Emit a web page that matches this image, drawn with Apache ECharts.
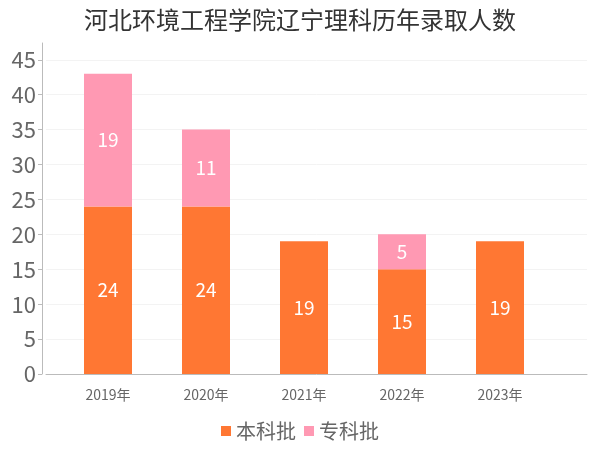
<!DOCTYPE html>
<html>
<head>
<meta charset="utf-8">
<script src="https://cdn.jsdelivr.net/npm/echarts@6/dist/echarts.min.js"></script>
<style>
  html, body { margin: 0; padding: 0; background: #fff; }
  #chart { width: 600px; height: 450px; }
</style>
</head>
<body>
<div id="chart"></div>
<script>
const years = ["2019年", "2020年", "2021年", "2022年", "2023年"];
const benke = [24, 24, 19, 15, 19];
const zhuanke = [19, 11, null, 5, null];
const yTicks = [0, 5, 10, 15, 20, 25, 30, 35, 40, 45];

const font = "'Noto Sans CJK SC', 'Noto Sans', sans-serif";
const chart = echarts.init(document.getElementById("chart"));

const barLabel = {
  show: true,
  position: "inside",
  color: "#fff",
  fontSize: 19,
  fontFamily: font
};

chart.setOption({
  title: {
    text: "河北环境工程学院辽宁理科历年录取人数",
    left: "center",
    top: 3,
    textStyle: { color: "#333", fontSize: 24, fontWeight: "normal", fontFamily: font }
  },
  legend: {
    bottom: 4,
    itemWidth: 10,
    itemHeight: 10,
    itemGap: 8,
    icon: "rect",
    textStyle: { color: "#666", fontSize: 20, fontFamily: font },
    data: ["本科批", "专科批"]
  },
  grid: [
    { left: 59, right: 51, top: 43, bottom: 76 },
    { left: 46, right: 13, top: 43, bottom: 76 }
  ],
  xAxis: [
    {
      gridIndex: 0,
      type: "category",
      data: years,
      offset: 4,
      axisLine: { show: false },
      axisTick: { alignWithLabel: true, length: 4, lineStyle: { color: "#bbb" } },
      axisLabel: { color: "#666", fontSize: 14, margin: 10, fontFamily: font }
    },
    {
      gridIndex: 1,
      type: "category",
      data: years,
      offset: 4,
      axisLine: { lineStyle: { color: "#bbb" } },
      axisTick: { show: false },
      axisLabel: { show: false }
    }
  ],
  yAxis: [
    {
      gridIndex: 0,
      type: "value",
      min: 0,
      max: 47.4,
      show: false
    },
    {
      gridIndex: 1,
      type: "value",
      min: 0,
      max: 47.4,
      interval: 5,
      offset: 4,
      axisLine: { show: true, lineStyle: { color: "#bbb" } },
      axisTick: { show: true, length: 4, customValues: yTicks, lineStyle: { color: "#bbb" } },
      axisLabel: { color: "#666", fontSize: 22, margin: 6, customValues: yTicks, fontFamily: font },
      splitLine: { lineStyle: { color: "#f3f3f3" } }
    }
  ],
  series: [
    {
      name: "本科批",
      type: "bar",
      stack: "total",
      xAxisIndex: 0,
      yAxisIndex: 0,
      barWidth: 48,
      data: benke,
      itemStyle: { color: "#ff7733" },
      label: barLabel
    },
    {
      name: "专科批",
      type: "bar",
      stack: "total",
      xAxisIndex: 0,
      yAxisIndex: 0,
      barWidth: 48,
      data: zhuanke,
      itemStyle: { color: "#ff99b3" },
      label: barLabel
    }
  ]
});
</script>
</body>
</html>
